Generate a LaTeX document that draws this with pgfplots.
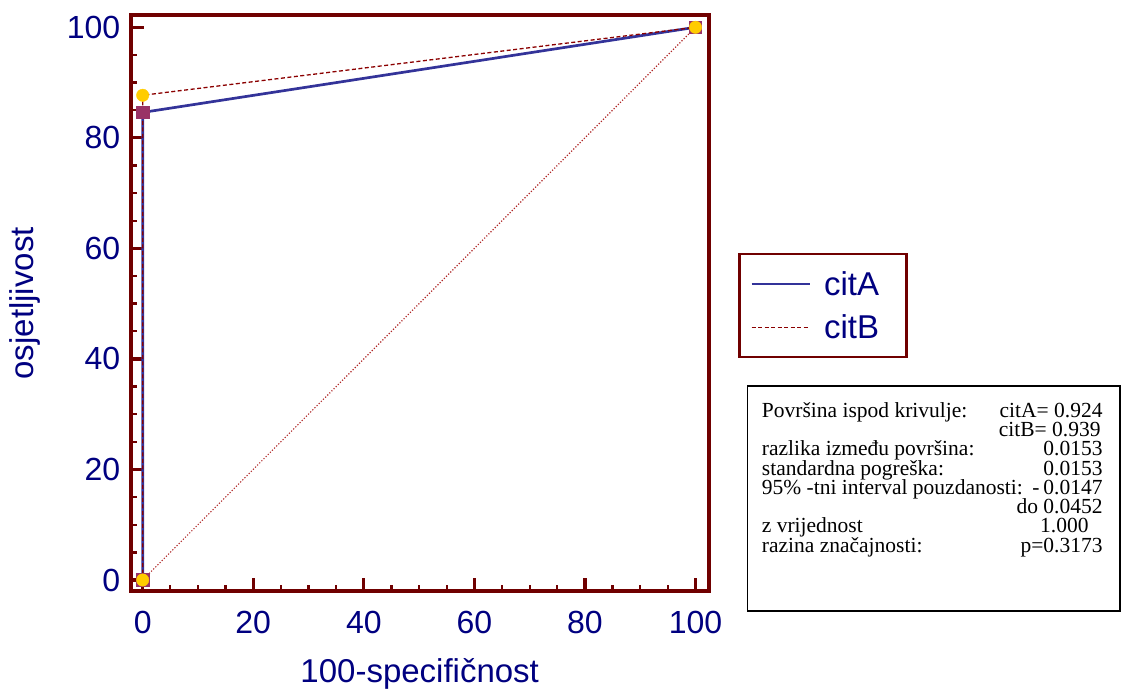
\documentclass[border=0pt]{standalone}
\usepackage{fontspec}
\setmainfont{Liberation Sans}
\newfontfamily\statsfont{Liberation Serif}
\usepackage{pgfplots}
\pgfplotsset{compat=1.18}

\definecolor{axisred}{RGB}{112,0,0}
\definecolor{navytext}{RGB}{0,0,128}
\definecolor{citAblue}{RGB}{51,51,153}
\definecolor{citBred}{RGB}{139,0,0}
\definecolor{diagred}{RGB}{175,40,40}
\definecolor{sqpurple}{RGB}{153,51,102}
\definecolor{dotyellow}{RGB}{255,204,0}

\newcommand{\tickfont}{\fontsize{32}{32}\selectfont}
\newcommand{\labelfont}{\fontsize{33}{33}\selectfont}
\newcommand{\statsize}{\statsfont\fontsize{21.5}{19.3}\selectfont}
\newcommand{\s}[1]{\smash{#1}}

\begin{document}
\begin{tikzpicture}
\begin{axis}[
    scale only axis,
    width=578pt, height=576.2pt,
    xmin=-2.17, xmax=102.39,
    ymin=-2.08, ymax=102.17,
    clip=false,
    axis line style={axisred, line width=4pt},
    tick pos=left,
    tick align=inside,
    xtick={0,20,40,60,80,100}, ytick={0,20,40,60,80,100},
    minor tick num=3,
    major tick length=13.5pt, minor tick length=6.5pt,
    every tick/.style={axisred},
    major tick style={line width=3.2pt},
    minor tick style={line width=2.3pt},
    tick label style={font=\tickfont, text=navytext},
    /pgf/number format/assume math mode=true,
    xticklabel style={yshift=-16pt},
    yticklabel style={xshift=-7pt},
    xlabel={100-specifičnost},
    ylabel={osjetljivost},
    xlabel style={font=\labelfont, text=navytext, at={(axis description cs:0.5,-0.1588)}, anchor=base},
    ylabel style={font=\labelfont, text=navytext, at={(axis description cs:-0.1682,0.5)}, anchor=base},
    legend image code/.code={\draw[#1] (0pt,0pt) -- (58pt,0pt);},
    legend style={at={(1.0512,0.588)}, anchor=north west,
        draw=axisred, line width=2.7pt,
        inner xsep=10.7pt, inner ysep=15.2pt,
        row sep=13.8pt, column sep=11pt,
        font=\labelfont, text=navytext},
    legend cell align=left,
]
\coordinate (sw) at (rel axis cs:0,0);

% diagonal reference line
\addplot[diagred, line width=1.1pt, dash pattern=on 1.2pt off 1.8pt, forget plot]
    coordinates {(0,0) (100,100)};

\addplot[citAblue, line width=2.7pt]
    coordinates {(0,0) (0,84.6) (100,100)};
\addlegendentry{\makebox[70pt][l]{citA}}

\addplot[citBred, line width=1.3pt, dash pattern=on 4pt off 2.5pt]
    coordinates {(0,0) (0,87.7) (100,100)};
\addlegendentry{\makebox[70pt][l]{citB}}

% markers
\addplot[only marks, mark=square*, mark size=6.3pt,
    mark options={fill=sqpurple, draw=sqpurple, line width=0.6pt}, forget plot]
    coordinates {(0,0) (0,84.6) (100,100)};
\addplot[only marks, mark=*, mark size=6.2pt,
    mark options={fill=dotyellow, draw=dotyellow, line width=0.4pt}, forget plot]
    coordinates {(0,0) (0,87.7) (100,100)};

% statistics box
\node[draw=black, line width=1.8pt, anchor=north west, inner sep=0pt,
      minimum width=372.3pt, minimum height=225.5pt]
    at (rel axis cs:1.0657,0.35838) {};
\node[anchor=north west, inner sep=0pt, font=\statsize]
    at (rel axis cs:1.0917,0.3263) {%
    \begin{tabular}{@{}l@{}}
    \s{Površina ispod krivulje:}\\
    \\
    \s{razlika između površina:}\\
    \s{standardna pogreška:}\\
    \s{95\% -tni interval pouzdanosti:}\\
    \\
    \s{z vrijednost}\\
    \s{razina značajnosti:}
    \end{tabular}};
\node[anchor=north east, inner sep=0pt, font=\statsize]
    at (rel axis cs:1.6817,0.3263) {%
    \begin{tabular}{@{}r@{}}
    \s{citA= 0.924}\\
    \s{citB= 0.939}\kern2pt\\
    \s{0.0153}\\
    \s{0.0153}\\
    \s{-\kern4pt0.0147}\\
    \s{do 0.0452}\\
    \s{1.000}\kern14pt\\
    \s{p=0.3173}
    \end{tabular}};
\end{axis}
\pgfresetboundingbox
\path (sw) ++(-130.7pt,-100.5pt) rectangle ++(1121pt,692pt);
\end{tikzpicture}
\end{document}
